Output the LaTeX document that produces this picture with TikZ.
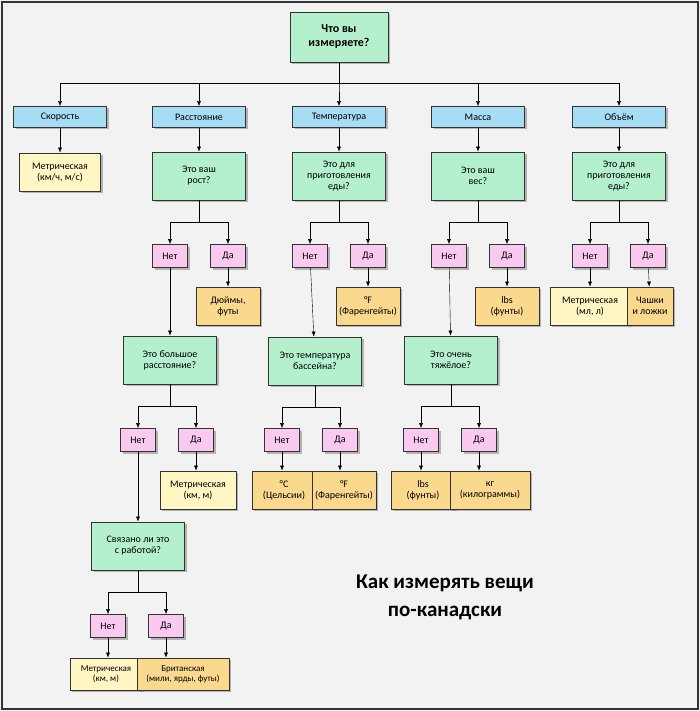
\documentclass[tikz,border=0pt]{standalone}
\usepackage{fontspec}
\setmainfont{Carlito}
\usetikzlibrary{shadows,arrows.meta}
\definecolor{qgreen}{HTML}{B4F0CE}
\definecolor{cblue}{HTML}{A6DDF4}
\definecolor{ynpink}{HTML}{F9C9F0}
\definecolor{mylw}{HTML}{FFF6C3}
\definecolor{myor}{HTML}{FAD98F}
\tikzset{
  box/.style={draw=black!80, thick, align=center, inner sep=1pt, font=\fontsize{10}{11}\selectfont,
    drop shadow={opacity=.55, shadow xshift=2pt, shadow yshift=-2pt}},
  qbox/.style={box, fill=qgreen, minimum width=93pt, minimum height=48pt},
  cbox/.style={box, fill=cblue, minimum width=93pt, minimum height=21pt},
  ynbox/.style={box, fill=ynpink, minimum width=35pt, minimum height=23pt},
  mbox/.style={box, fill=mylw, minimum height=38pt},
  ibox/.style={box, fill=myor, minimum height=38pt},
  arr/.style={-{Latex[length=5pt,width=4pt]}, black}
}
\begin{document}
\begin{tikzpicture}[x=1pt,y=-1pt]
\fill[black!5] (0,0) rectangle (700,711);
\draw[black!80, line width=1.5pt] (2,2) rectangle (698,709);

% root and categories
\node[qbox, minimum width=98pt, minimum height=50pt, font=\bfseries\fontsize{12}{14}\selectfont] (root) at (339,37) {Что вы\\измеряете?};
\node[cbox] (speed) at (60,117) {Скорость};
\node[cbox] (dist) at (199,117) {Расстояние};
\node[cbox] (temp) at (339,117) {Температура};
\node[cbox] (mass) at (478,117) {Масса};
\node[cbox] (vol) at (619,117) {Объём};
\foreach \c in {speed,dist,temp,mass,vol}
  \draw[arr] (root.south) -- ++(0,21) -| (\c.north);

% speed
\node[mbox, minimum width=81pt] (speedm) at (60,172) {Метрическая\\(км/ч, м/с)};
\draw[arr] (speed) -- (speedm);

% first questions
\node[qbox] (distq) at (199,176) {Это ваш\\рост?};
\node[qbox] (tempq) at (339,176) {Это для\\приготовления\\еды?};
\node[qbox] (massq) at (478,176) {Это ваш\\вес?};
\node[qbox] (volq) at (619,176) {Это для\\приготовления\\еды?};
\draw[arr] (dist) -- (distq);
\draw[arr] (temp) -- (tempq);
\draw[arr] (mass) -- (massq);
\draw[arr] (vol) -- (volq);

\node[ynbox] (distn) at (170,256) {Нет};
\node[ynbox] (disty) at (228,256) {Да};
\node[ynbox] (tempn) at (310,256) {Нет};
\node[ynbox] (tempy) at (368,256) {Да};
\node[ynbox] (massn) at (449,256) {Нет};
\node[ynbox] (massy) at (507,256) {Да};
\node[ynbox] (voln) at (590,256) {Нет};
\node[ynbox] (voly) at (648,256) {Да};
\foreach \q/\n/\y in {distq/distn/disty,tempq/tempn/tempy,massq/massn/massy,volq/voln/voly}{
  \draw[arr] (\q.south) -- ++(0,22) -| (\n.north);
  \draw[arr] (\q.south) -- ++(0,22) -| (\y.north);
}

\node[ibox, minimum width=64pt] (inch) at (228,306) {Дюймы,\\футы};
\node[ibox, minimum width=64pt] (fahr1) at (368,306) {°F\\(Фаренгейты)};
\node[ibox, minimum width=64pt] (lbs1) at (507,306) {lbs\\(фунты)};
\node[mbox, minimum width=80pt] (volm) at (590,306) {Метрическая\\(мл, л)};
\node[ibox, minimum width=46pt] (cups) at (650,306) {Чашки\\и ложки};
\draw[arr] (disty) -- (inch);
\draw[arr] (tempy) -- (fahr1);
\draw[arr] (massy) -- (lbs1);
\draw[arr] (voln) -- (volm);
\draw[arr] (voly) -- (cups);

% second questions
\node[qbox] (distq2) at (170,360) {Это большое\\расстояние?};
\node[qbox] (tempq2) at (315,361) {Это температура\\бассейна?};
\node[qbox] (massq2) at (451,360) {Это очень\\тяжёлое?};
\draw[arr] (distn) -- (distq2);
\draw[arr] (tempn) -- (tempq2);
\draw[arr] (massn) -- (massq2);

\node[ynbox] (distn2) at (138,440) {Нет};
\node[ynbox] (disty2) at (196,440) {Да};
\node[ynbox] (tempn2) at (282,440) {Нет};
\node[ynbox] (tempy2) at (340,440) {Да};
\node[ynbox] (massn2) at (421,440) {Нет};
\node[ynbox] (massy2) at (479,440) {Да};
\foreach \q/\n/\y in {distq2/distn2/disty2,tempq2/tempn2/tempy2,massq2/massn2/massy2}{
  \draw[arr] (\q.south) -- ++(0,22) -| (\n.north);
  \draw[arr] (\q.south) -- ++(0,22) -| (\y.north);
}

\node[mbox, minimum width=76pt] (kmm) at (198,490) {Метрическая\\(км, м)};
\node[ibox, minimum width=64pt] (cels) at (284,490) {°C\\(Цельсии)};
\node[ibox, minimum width=64pt] (fahr2) at (344,490) {°F\\(Фаренгейты)};
\node[ibox, minimum width=64pt] (lbs2) at (423,490) {lbs\\(фунты)};
\node[ibox, minimum width=80pt] (kg) at (490,490) {кг\\(килограммы)};
\draw[arr] (disty2) -- (disty2 |- kmm.north);
\draw[arr] (tempn2) -- (tempn2 |- cels.north);
\draw[arr] (tempy2) -- (tempy2 |- fahr2.north);
\draw[arr] (massn2) -- (massn2 |- lbs2.north);
\draw[arr] (massy2) -- (massy2 |- kg.north);

% third question
\node[qbox] (work) at (138,546) {Связано ли это\\с работой?};
\draw[arr] (distn2) -- (work);
\node[ynbox] (workn) at (108,626) {Нет};
\node[ynbox] (worky) at (166,626) {Да};
\draw[arr] (work.south) -- ++(0,22) -| (workn.north);
\draw[arr] (work.south) -- ++(0,22) -| (worky.north);
\node[mbox, minimum width=72pt, minimum height=32pt, font=\fontsize{9}{10}\selectfont] (workm) at (106,674) {Метрическая\\(км, м)};
\node[ibox, minimum width=92pt, minimum height=32pt, font=\fontsize{9}{10}\selectfont] (brit) at (183,674) {Британская\\(мили, ярды, футы)};
\draw[arr] (workn) -- (workn |- workm.north);
\draw[arr] (worky) -- (worky |- brit.north);

% title
\node[align=center, font=\bfseries\fontsize{21}{28}\selectfont] (title) at (445,597) {Как измерять вещи\\по-канадски};
\end{tikzpicture}
\end{document}
